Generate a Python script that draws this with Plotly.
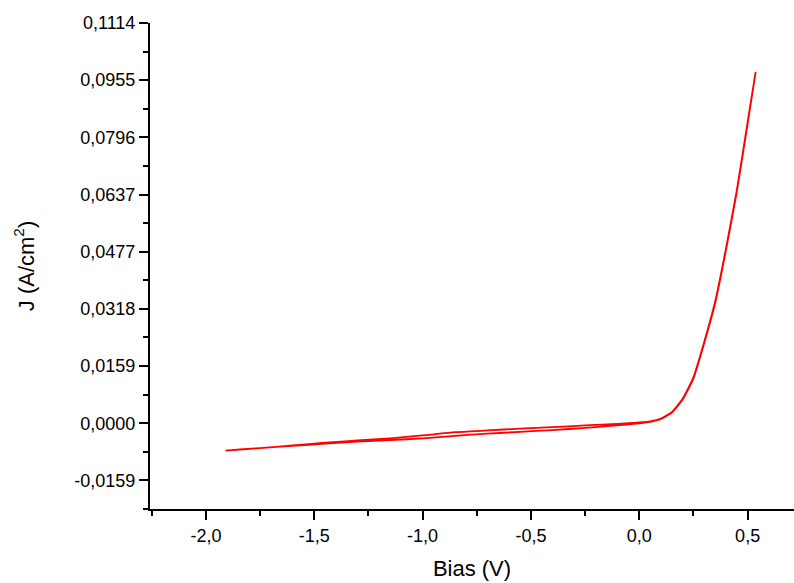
import plotly.graph_objects as go

# Forward sweep (-1.91 V -> 0.537 V)
bias_forward = [-1.91, -1.75, -1.60, -1.45, -1.30, -1.15, -1.00, -0.85, -0.70,
                -0.55, -0.40, -0.25, -0.15, -0.05, 0.00, 0.05, 0.10, 0.15,
                0.20, 0.25, 0.30, 0.35, 0.40, 0.45, 0.50, 0.537]
j_forward = [-0.0076, -0.0069, -0.0063, -0.0057, -0.0051, -0.0047, -0.0042,
             -0.0035, -0.0029, -0.0024, -0.0019, -0.0013, -0.0008, -0.0003,
             0.0000, 0.0004, 0.0012, 0.0030, 0.0066, 0.0125, 0.0224, 0.0334,
             0.0482, 0.0644, 0.0834, 0.0978]

# Reverse sweep (0.537 V -> -1.91 V)
bias_reverse = [0.537, 0.50, 0.45, 0.40, 0.35, 0.30, 0.25, 0.20, 0.15, 0.10,
                0.05, 0.00, -0.05, -0.15, -0.25, -0.40, -0.55, -0.70, -0.85,
                -1.00, -1.15, -1.30, -1.45, -1.60, -1.75, -1.91]
j_reverse = [0.0978, 0.0838, 0.0648, 0.0486, 0.0338, 0.0227, 0.0128, 0.0068,
             0.0031, 0.0013, 0.0005, 0.0002, 0.0000, -0.0003, -0.0006, -0.0011,
             -0.0015, -0.0020, -0.0025, -0.0034, -0.0042, -0.0048, -0.0054,
             -0.0062, -0.0069, -0.0076]

# Axis ticks
x_tick_values = [-2.0, -1.5, -1.0, -0.5, 0.0, 0.5]
x_tick_labels = ["-2,0", "-1,5", "-1,0", "-0,5", "0,0", "0,5"]
y_tick_labels = ["-0,0159", "0,0000", "0,0159", "0,0318", "0,0477",
                 "0,0637", "0,0796", "0,0955", "0,1114"]

y_top = 0.1114
y_step = y_top / 7
y_tick_values = [y_step * k for k in range(-1, 8)]

bias = bias_forward + bias_reverse[1:]
current = j_forward + j_reverse[1:]

fig = go.Figure()
fig.add_trace(go.Scatter(
    x=bias, y=current, mode="lines",
    line=dict(color="#ff0000", width=1.8, shape="spline", smoothing=0.5),
    showlegend=False,
))

axis_font = dict(family="Liberation Sans, Arial, sans-serif", size=18, color="black")

fig.update_layout(
    width=794, height=583,
    margin=dict(l=150, r=0, t=23, b=74),
    paper_bgcolor="white", plot_bgcolor="white",
    font=axis_font,
    xaxis=dict(
        range=[-2.258, 0.714],
        showgrid=False, zeroline=False,
        showline=True, linecolor="black", linewidth=2,
        ticks="outside", ticklen=9, tickwidth=1.5, tickcolor="black",
        tickmode="array", tickvals=x_tick_values, ticktext=x_tick_labels,
        minor=dict(ticks="outside", ticklen=5, tickwidth=1.5, tickcolor="black",
                   tick0=0, dtick=0.25, showgrid=False),
        title=dict(text="Bias (V)", font=dict(size=22), standoff=16),
        tickfont=dict(size=18),
    ),
    yaxis=dict(
        range=[-1.5 * y_step, y_top],
        showgrid=False, zeroline=False,
        showline=True, linecolor="black", linewidth=2,
        ticks="outside", ticklen=9, tickwidth=1.5, tickcolor="black",
        tickmode="array", tickvals=y_tick_values, ticktext=y_tick_labels,
        minor=dict(ticks="outside", ticklen=5, tickwidth=1.5, tickcolor="black",
                   tick0=0, dtick=y_step / 2, showgrid=False),
        title=dict(text="J (A/cm<sup>2</sup>)", font=dict(size=22), standoff=34),
        tickfont=dict(size=18),
    ),
)

fig.write_html("out.html")
